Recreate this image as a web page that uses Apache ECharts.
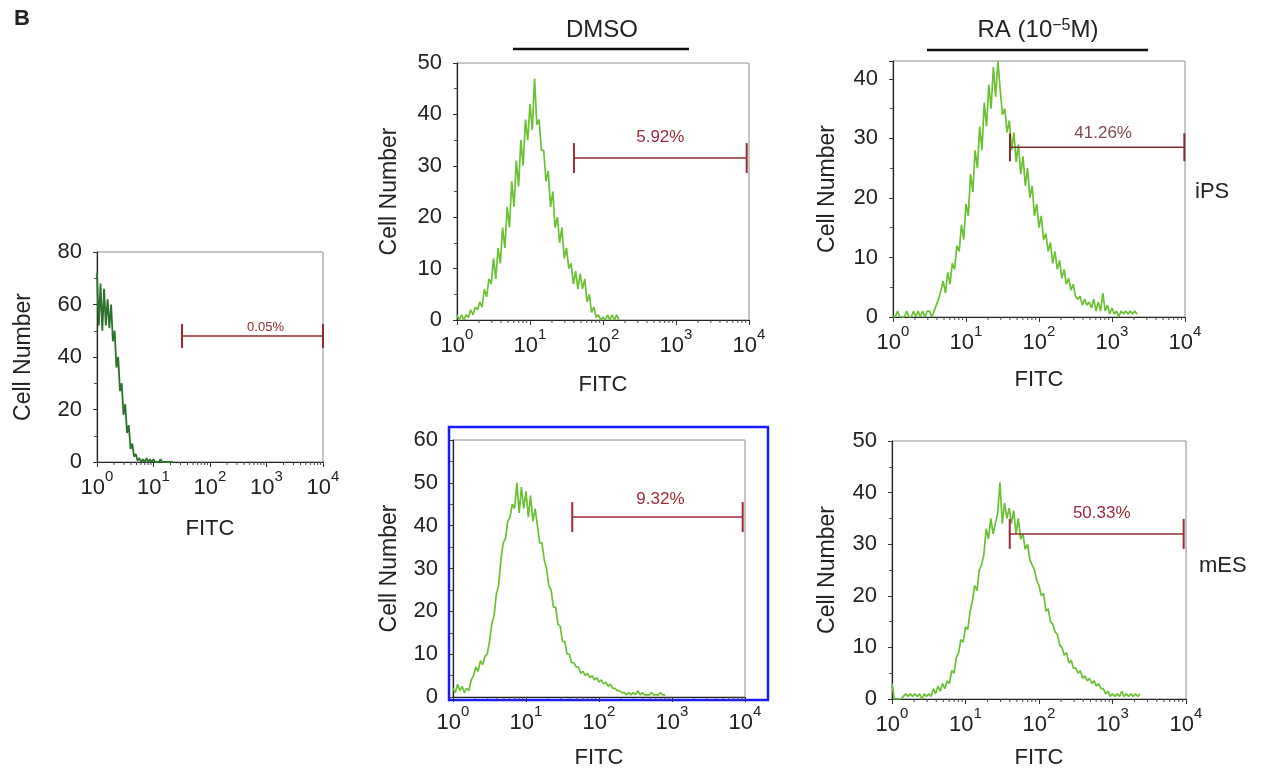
<!DOCTYPE html>
<html><head><meta charset="utf-8">
<script src="https://cdn.jsdelivr.net/npm/echarts@6/dist/echarts.min.js"></script>
<style>html,body{margin:0;padding:0;background:#fff}#c{width:1262px;height:777px}</style>
</head><body><div id="c"></div>
<script>
// ---- data (histogram counts per channel; 32 channels per decade starting at 10^0) ----
const binsPerDecade = 32;
const countsCtrl = [72,52,68,50,66,52,62,51,60,46,50,36,40,27,30,18,22,11,14,5,7,2,3,0.5,1.5,0,1,0,1.5,0,1,0,1,0,0.5,0,1,0,0.5,0,0.5,0,0.5,0];
const countsDmsoIps = [1,0,1,0,1,0.5,2,1,2.5,2,3.5,2.5,6,4.5,8,7,12,8,14,11,18,14,22,18,27,22,31,26,35,30,39,35,42,37,47,38,39,33,33,27,29,22,25,18,20,15,18,12,14,10,11,7,9.5,6,9,6,8,3.5,5,1.5,2.5,0.5,1,0,0.5,0,1,0,1,0,1,0];
const countsRaIps = [0,0,1,0,0,0,1,0,0,1,0,1,0,1,0,1,1,0,1,2,3,4.5,6,4,7.5,5.5,9,8,12,11,15.5,13,19,17,24,21,28,25,32,28,36,32,39,35,42,37,43,38,34,35,31,33,28,31,26,29,24,27,22,25,20,22,17,19,15,17,13,14,11,12.5,9,11,8,9.5,6.5,8,5.5,6.5,4.5,5.5,3.5,3,3.5,2,3,2,2.5,1.5,3,1,2.5,1,4,1,2,0.5,1.5,0.5,1,0,1,0.5,1,0.5,1,0.5,1,0.5];
const countsDmsoMes = [2,1,3,1.5,2.5,1,2,1.5,4,5,7,6,8.5,7.5,9.5,10,13,17,19,24,26,32,36,37,41,42,45,44,50,43,49,44,48,42,47,41,44,40,36,36,32,30,26,25,21,21,17,16.5,13,13,10,10,8,8,7,7,5.5,6,5,5.5,4.5,5,4,4.5,3.5,4,3,3.5,2.5,3,2,2,1.5,1.5,1,1,0.5,1,0.5,1,0.5,1.5,0.5,1,0.5,0.5,0.5,1,0.5,0.5,0.5,1,0.5,0.5];
const countsRaMes = [3,0,0,0,0,0.5,1,0.5,1,0.5,1,0.5,1,0,1,0.5,1,0.5,2,1,2.5,1.5,3,2,3.5,3,5.5,5,8,9,11.5,11,14,13.5,17,19,22,21,25,26,28,33,31,35,32,34,36,42,34,38,35,37,34,36.5,32,35,31,32,29,30,27,26,25,23,22,20,20.5,17,17.5,15,14.5,13,12.5,10.5,10,8.5,9,7,7.5,6,6,5,5.5,4,4.5,3.5,4,3,3.5,2.5,3,2,2,1,1.5,0.5,1,0.5,1,0.5,1.5,0.5,1,0.5,1,0.5,1,0.5,1];

// gates: [start FITC, end FITC, cell number]
const gateCtrl = [32, 10000, 48];
const gateDmsoIps = [40, 9300, 31.5];
const gateRaIps = [40, 9800, 28.5];
const gateDmsoMes = [43, 9300, 42];
const gateRaMes = [40, 9300, 32];
const gateLabels = ['0.05%', '5.92%', '41.26%', '9.32%', '50.33%'];

const xTickValues = [1, 10, 100, 1000, 10000];
const minorFactors = [2, 3, 4, 5, 6, 7, 8, 9];
const yMaxes = [80, 50, 43, 60, 50];
const yIntervals = [20, 10, 10, 10, 10];

// ---- rendering ----
const FONT = '"Liberation Sans", Arial, Helvetica, sans-serif';
const panels = [
  {grid:{left:97, top:252, width:226, height:210}, counts:countsCtrl, color:'#2b722b', lw:1.8, gate:gateCtrl, label:gateLabels[0],
   lfs:13, ldy:9, ldx:13, cap:12, gc:'#8e2a2a', lc:'#8e2a2a', yGap:62, xGap:56},
  {grid:{left:457, top:63, width:292, height:257}, counts:countsDmsoIps, color:'#6cc033', lw:1.7, gate:gateDmsoIps, label:gateLabels[1],
   lfs:17, ldy:21, ldx:0, cap:15, gc:'#9b2b35', lc:'#9b2b35', yGap:56, xGap:54},
  {grid:{left:893, top:61, width:292, height:256}, counts:countsRaIps, color:'#6cc033', lw:1.7, gate:gateRaIps, label:gateLabels[2],
   lfs:17, ldy:14, ldx:6, cap:14, gc:'#7a2e33', lc:'#7d4a50', yGap:54, xGap:52},
  {grid:{left:453, top:440, width:292, height:257}, counts:countsDmsoMes, color:'#6cc033', lw:1.7, gate:gateDmsoMes, label:gateLabels[3],
   lfs:17, ldy:18, ldx:3, cap:15, gc:'#9b2b35', lc:'#9b2b35', yGap:52, xGap:50},
  {grid:{left:892, top:441, width:294, height:258}, counts:countsRaMes, color:'#6cc033', lw:1.7, gate:gateRaMes, label:gateLabels[4],
   lfs:17, ldy:21, ldx:5, cap:15, gc:'#9b2b35', lc:'#9b2b35', yGap:53, xGap:48}
];

const minorVals = [];
xTickValues.slice(0, 4).forEach(d => minorFactors.forEach(f => minorVals.push([d * f, 0])));

const grids = [], xAxes = [], yAxes = [], series = [];
panels.forEach((p, k) => {
  grids.push(Object.assign({show:true, borderColor:'#8c8c8c', borderWidth:1, containLabel:false}, p.grid));
  xAxes.push({
    gridIndex:k, type:'log', logBase:10, min:1, max:10000,
    name:'FITC', nameLocation:'middle', nameGap:p.xGap,
    nameTextStyle:{fontFamily:FONT, fontSize:22, color:'#222'},
    axisLine:{show:true, lineStyle:{color:'#222', width:1.2}},
    axisTick:{show:true, length:5, lineStyle:{color:'#333'}},
    splitLine:{show:false}, minorTick:{show:false},
    axisLabel:{margin:7, color:'#222',
      formatter: v => '{b|10}{s|' + Math.round(Math.log10(v)) + '}',
      rich:{b:{fontFamily:FONT, fontSize:22, lineHeight:37, color:'#222'},
            s:{fontFamily:FONT, fontSize:15, lineHeight:15, verticalAlign:'top', color:'#222'}}}
  });
  yAxes.push({
    gridIndex:k, type:'value', min:0, max:yMaxes[k], interval:yIntervals[k],
    name:'Cell Number', nameLocation:'middle', nameGap:p.yGap,
    nameTextStyle:{fontFamily:FONT, fontSize:23, color:'#222'},
    axisLine:{show:true, lineStyle:{color:'#222', width:1.2}},
    axisTick:{show:true, length:4, lineStyle:{color:'#333'}},
    minorTick:{show:true, splitNumber:2, length:3, lineStyle:{color:'#555'}},
    splitLine:{show:false},
    axisLabel:{margin:15, fontFamily:FONT, fontSize:22, color:'#222', showMaxLabel:yMaxes[k] % yIntervals[k] === 0}
  });
  series.push({
    type:'line', xAxisIndex:k, yAxisIndex:k, symbol:'none', showSymbol:false, sampling:'none',
    data: p.counts.map((c, i) => [Math.pow(10, i / binsPerDecade), c]),
    lineStyle:{color:p.color, width:p.lw}, z:3, animation:false
  });
  series.push({
    type:'custom', xAxisIndex:k, yAxisIndex:k, encode:{x:0, y:1}, z:2,
    data: minorVals,
    renderItem:(params, api) => {
      const pt = api.coord([api.value(0), 0]);
      return {type:'line', shape:{x1:pt[0], y1:pt[1], x2:pt[0], y2:pt[1] + 3}, style:{stroke:'#444', lineWidth:1}};
    }, silent:true, animation:false
  });
  series.push({
    type:'custom', xAxisIndex:k, yAxisIndex:k, encode:{x:[0,1], y:2}, z:5,
    data:[p.gate],
    renderItem:(params, api) => {
      const a = api.coord([api.value(0), api.value(2)]);
      const b = api.coord([api.value(1), api.value(2)]);
      const h = p.cap;
      return {type:'group', children:[
        {type:'line', shape:{x1:a[0], y1:a[1], x2:b[0], y2:b[1]}, style:{stroke:p.gc, lineWidth:1.5}},
        {type:'line', shape:{x1:a[0], y1:a[1]-h, x2:a[0], y2:a[1]+h}, style:{stroke:p.gc, lineWidth:2}},
        {type:'line', shape:{x1:b[0], y1:b[1]-h, x2:b[0], y2:b[1]+h}, style:{stroke:p.gc, lineWidth:2}},
        {type:'text', x:(a[0]+b[0])/2 + p.ldx, y:a[1]-p.ldy,
         style:{text:p.label, fill:p.lc, fontSize:p.lfs, fontFamily:FONT, align:'center', verticalAlign:'middle'}}
      ]};
    }, silent:true, animation:false
  });
});

const txt = (x, y, text, opts) => ({type:'text', x, y, style:Object.assign({text, fontFamily:FONT, fontSize:22, fill:'#222', align:'center', verticalAlign:'middle'}, opts || {})});
const graphic = [
  txt(22, 19, 'B', {fontSize:22, fontWeight:'bold', fill:'#222'}),
  txt(602, 30, 'DMSO', {fontSize:24}),
  {type:'line', shape:{x1:513, y1:49, x2:689, y2:49}, style:{stroke:'#111', lineWidth:2.5}},
  txt(1038, 30, 'RA (10{s|\u22125}M)', {fontSize:24, rich:{s:{fontFamily:FONT, fontSize:16, verticalAlign:'top', lineHeight:12, fill:'#222'}}}),
  {type:'line', shape:{x1:927, y1:50, x2:1148, y2:50}, style:{stroke:'#111', lineWidth:2.5}},
  txt(1195, 192, 'iPS', {align:'left'}),
  txt(1199, 566, 'mES', {align:'left'}),
  {type:'rect', shape:{x:449, y:427, width:319, height:273}, style:{fill:'none', stroke:'#1a1aff', lineWidth:2.5}}
];

const chart = echarts.init(document.getElementById('c'), null, {renderer:'canvas'});
chart.setOption({animation:false, backgroundColor:'#fff', grid:grids, xAxis:xAxes, yAxis:yAxes, series, graphic});
</script>
</body></html>
